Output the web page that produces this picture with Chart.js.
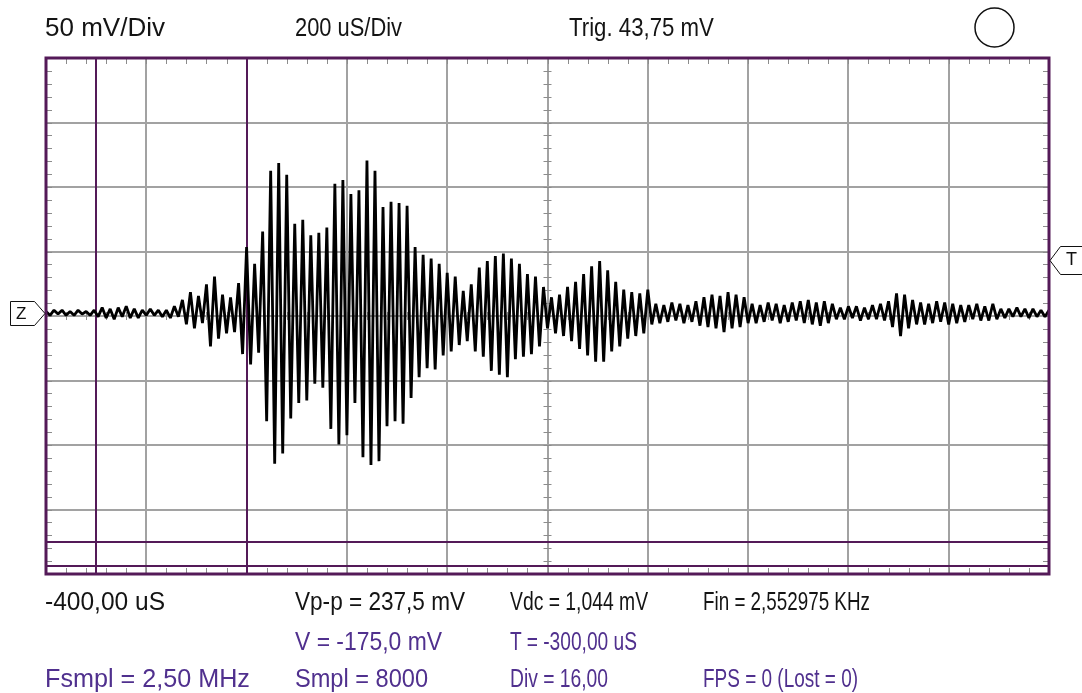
<!doctype html>
<html lang="en">
<head>
    <meta charset="utf-8">
    <title>Scope capture</title>
    <script src="https://cdn.jsdelivr.net/npm/chart.js@4.4.1/dist/chart.umd.min.js"></script>
    <style>
        html, body { margin: 0; padding: 0; background: #fff; }
        #wrap { position: relative; width: 1082px; height: 693px; overflow: hidden; }
        #scope { position: absolute; left: 0; top: 0; }
        .lbl {
            position: absolute;
            font-family: "Liberation Sans", Arial, sans-serif;
            font-size: 25px;
            line-height: 25px;
            white-space: nowrap;
            transform-origin: 0 0;
            color: #141414;
        }
        .lbl.info { color: #50308e; }
        .mark {
            position: absolute;
            font-family: "Liberation Sans", Arial, sans-serif;
            font-size: 17px;
            line-height: 17px;
            color: #111;
        }
    </style>
</head>
<body>
<div id="wrap">
    <canvas id="scope" width="1082" height="693"></canvas>

    <div class="lbl" style="left:45px; top:15px" data-w="120">50 mV/Div</div>
    <div class="lbl" style="left:295px; top:15px" data-w="107">200 uS/Div</div>
    <div class="lbl" style="left:569px; top:15px" data-w="145">Trig. 43,75 mV</div>

    <div class="lbl" style="left:45px; top:589px" data-w="120">-400,00 uS</div>
    <div class="lbl" style="left:295px; top:589px" data-w="170">Vp-p = 237,5 mV</div>
    <div class="lbl" style="left:510px; top:589px" data-w="138">Vdc = 1,044 mV</div>
    <div class="lbl" style="left:703px; top:589px" data-w="167">Fin = 2,552975 KHz</div>

    <div class="lbl info" style="left:295px; top:629px" data-w="147">V = -175,0 mV</div>
    <div class="lbl info" style="left:510px; top:629px" data-w="127">T = -300,00 uS</div>

    <div class="lbl info" style="left:45px; top:666px" data-w="205">Fsmpl = 2,50 MHz</div>
    <div class="lbl info" style="left:295px; top:666px" data-w="133">Smpl = 8000</div>
    <div class="lbl info" style="left:510px; top:666px" data-w="98">Div = 16,00</div>
    <div class="lbl info" style="left:703px; top:666px" data-w="155">FPS = 0 (Lost = 0)</div>

    <div class="mark" style="left:16px; top:305px">Z</div>
    <div class="mark" style="left:1066px; top:251px; font-size:18px">T</div>
</div>

<script>
    // screen: 10 x 200 uS horizontally, 8 x 50 mV vertically
    const timeStart = -400;
    const timeEnd = 1600;
    const timeDiv = 200;
    const voltMin = -200;
    const voltMax = 200;
    const voltDiv = 50;

    // trace, one sample every 8 uS from the left edge (mV, relative to ground marker)
    const sampleStep = 8;
    const groundMv = 2.5;
    const traceMv = [
        1, -2, 2, -1, 2, -2, 1, -2, 2, -1,
        1, -2, 2, -3, 4, -4, 3, -5, 4, -3,
        5, -4, 3, -4, 2, -2, 3, -2, 2, -3,
        2, -4, 5, -3, 10, -9, 16, -12, 13, -8,
        22, -26, 28, -20, 14, -16, 12, -15, 23, -32,
        51, -40, 38, -31, 63, -84, 110, -117, 116, -109,
        107, -82, 69, -70, 72, -68, 60, -55, 62, -58,
        66, -90, 100, -102, 103, -95, 92, -70, 95, -112,
        118, -118, 110, -115, 82, -88, 86, -84, 85, -86,
        83, -66, 51, -50, 45, -43, 42, -44, 38, -33,
        31, -30, 28, -25, 17, -22, 22, -30, 35, -34,
        40, -45, 44, -48, 46, -50, 42, -36, 38, -34,
        30, -32, 28, -26, 20, -12, 12, -16, 14, -18,
        20, -22, 24, -28, 30, -33, 36, -38, 40, -38,
        33, -30, 24, -26, 18, -20, 16, -18, 15, -16,
        18, -9, 7, -8, 6, -7, 8, -6, 7, -8,
        6, -7, 9, -10, 12, -11, 14, -12, 13, -15,
        16, -12, 14, -11, 12, -8, 7, -8, 6, -7,
        8, -6, 7, -8, 6, -7, 8, -6, 9, -8,
        10, -9, 8, -10, 9, -8, 7, -5, 4, -5,
        5, -4, 5, -6, 4, -5, 6, -5, 7, -6,
        9, -11, 15, -18, 14, -12, 10, -9, 8, -9,
        7, -8, 9, -7, 8, -9, 7, -8, 6, -7,
        6, -5, 7, -6, 5, -6, 7, -5, 3, -4,
        3, -3, 4, -3, 3, -4, 3, -3, 2, -3, 2
    ];

    // cursors and trigger
    const cursorTimes = [-300, 0];
    const cursorVolts = [-175, -193.75];
    const triggerMv = 43.75;

    const lineColor = '#541a58';
    const gridColor = '#a2a2a2';
    const tickColor = '#8c8c8c';

    let points = traceMv.map(function (v, i) {
        return {x: timeStart + i * sampleStep, y: groundMv + v};
    });

    const scopeDecor = {
        id: 'scopeDecor',
        beforeDatasetsDraw(chart) {
            const ctx = chart.ctx;
            const a = chart.chartArea;
            const x = chart.scales.x;
            const y = chart.scales.y;
            const cx = x.getPixelForValue((timeStart + timeEnd) / 2);
            const cy = y.getPixelForValue(0);
            ctx.save();
            ctx.strokeStyle = tickColor;
            ctx.lineWidth = 1;
            ctx.beginPath();
            for (let t = timeStart; t <= timeEnd; t += timeDiv / 5) {
                let px = Math.round(x.getPixelForValue(t)) + 0.5;
                ctx.moveTo(px, a.top);
                ctx.lineTo(px, a.top + 6);
                ctx.moveTo(px, a.bottom);
                ctx.lineTo(px, a.bottom - 6);
                ctx.moveTo(px, cy - 4);
                ctx.lineTo(px, cy + 4);
            }
            for (let v = voltMin; v <= voltMax; v += voltDiv / 5) {
                let py = Math.round(y.getPixelForValue(v)) + 0.5;
                ctx.moveTo(a.left, py);
                ctx.lineTo(a.left + 6, py);
                ctx.moveTo(a.right, py);
                ctx.lineTo(a.right - 6, py);
                ctx.moveTo(cx - 4, py);
                ctx.lineTo(cx + 4, py);
            }
            ctx.stroke();

            ctx.strokeStyle = lineColor;
            ctx.lineWidth = 2;
            ctx.beginPath();
            cursorTimes.forEach(function (t) {
                let px = Math.round(x.getPixelForValue(t));
                ctx.moveTo(px, a.top);
                ctx.lineTo(px, a.bottom);
            });
            cursorVolts.forEach(function (v) {
                let py = Math.round(y.getPixelForValue(v));
                ctx.moveTo(a.left, py);
                ctx.lineTo(a.right, py);
            });
            ctx.stroke();
            ctx.restore();
        },
        afterDatasetsDraw(chart) {
            const ctx = chart.ctx;
            const a = chart.chartArea;
            const y = chart.scales.y;
            ctx.save();
            // frame
            ctx.strokeStyle = lineColor;
            ctx.lineWidth = 3;
            ctx.strokeRect(a.left, a.top, a.right - a.left, a.bottom - a.top);

            // ground marker
            ctx.strokeStyle = '#111';
            ctx.lineWidth = 1;
            let gy = Math.round(y.getPixelForValue(groundMv)) + 0.5;
            ctx.beginPath();
            ctx.moveTo(10.5, gy - 12);
            ctx.lineTo(34.5, gy - 12);
            ctx.lineTo(a.left - 1, gy);
            ctx.lineTo(34.5, gy + 12);
            ctx.lineTo(10.5, gy + 12);
            ctx.closePath();
            ctx.stroke();

            // trigger marker
            let ty = Math.round(y.getPixelForValue(triggerMv)) + 0.5;
            ctx.beginPath();
            ctx.moveTo(1090, ty - 14);
            ctx.lineTo(1060.5, ty - 14);
            ctx.lineTo(a.right + 1, ty);
            ctx.lineTo(1060.5, ty + 14);
            ctx.lineTo(1090, ty + 14);
            ctx.stroke();

            // run indicator
            ctx.lineWidth = 1.5;
            ctx.beginPath();
            ctx.arc(994.5, 27.5, 19.5, 0, Math.PI * 2);
            ctx.stroke();
            ctx.restore();
        }
    };

    new Chart(document.getElementById('scope'), {
        type: 'line',
        data: {
            datasets: [{
                data: points,
                borderColor: '#000',
                borderWidth: 2.8,
                borderJoinStyle: 'bevel',
                pointRadius: 0,
                tension: 0,
                fill: false
            }]
        },
        options: {
            responsive: false,
            animation: false,
            devicePixelRatio: 1,
            layout: {padding: {left: 46, right: 33, top: 58, bottom: 119}},
            plugins: {legend: {display: false}, tooltip: {enabled: false}},
            scales: {
                x: {
                    type: 'linear',
                    min: timeStart,
                    max: timeEnd,
                    afterFit: function (s) { s.height = 0; },
                    ticks: {display: false, stepSize: timeDiv},
                    border: {display: false},
                    grid: {color: gridColor, lineWidth: 2, drawTicks: false}
                },
                y: {
                    min: voltMin,
                    max: voltMax,
                    afterFit: function (s) { s.width = 0; },
                    ticks: {display: false, stepSize: voltDiv},
                    border: {display: false},
                    grid: {color: gridColor, lineWidth: 2, drawTicks: false}
                }
            }
        },
        plugins: [scopeDecor]
    });

    // squeeze each readout to the width it has on the scope screen
    document.querySelectorAll('.lbl').forEach(function (el) {
        let want = parseFloat(el.dataset.w);
        let have = el.getBoundingClientRect().width;
        el.style.transform = 'scaleX(' + (want / have).toFixed(3) + ')';
    });
</script>
</body>
</html>
